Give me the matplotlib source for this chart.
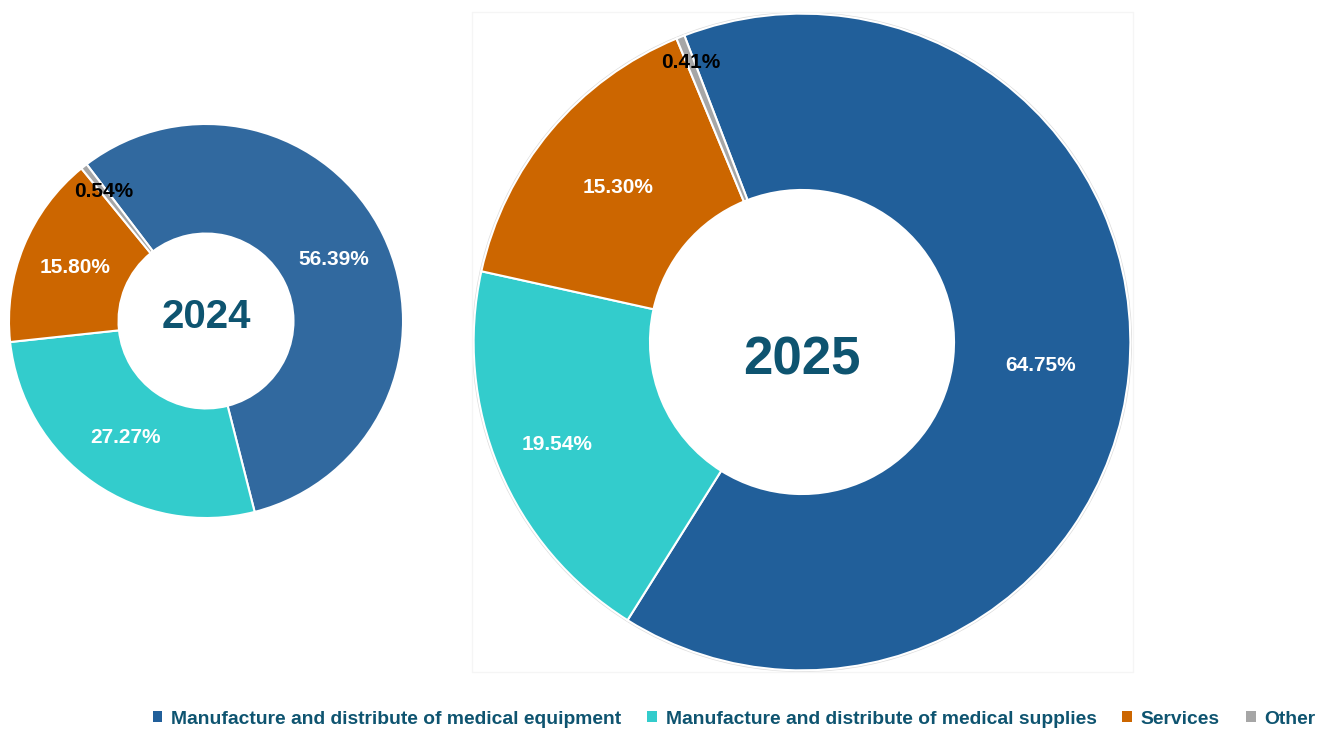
import matplotlib.pyplot as plt
import numpy as np
from matplotlib.patches import Rectangle, Circle

categories = ["Manufacture and distribute of medical equipment",
              "Manufacture and distribute of medical supplies",
              "Services", "Other"]
share_2024 = [56.39, 27.27, 15.80, 0.54]
share_2025 = [64.75, 19.54, 15.30, 0.41]

colors_2024 = ["#31699F", "#33CCCC", "#CC6600", "#A6A6A6"]
colors_2025 = ["#215F9A", "#33CCCC", "#CC6600", "#A6A6A6"]
label_colors = ["white", "white", "white", "black"]
title_color = "#0E5470"

plt.rcParams["font.family"] = ["Liberation Sans", "DejaVu Sans"]

fig = plt.figure(figsize=(13.18, 7.29), dpi=100)


def donut(ax, values, colors, start, width, dists, year, year_size, year_dy=0.0, outline=False):
    wedges, _ = ax.pie(values, colors=colors, startangle=start, counterclock=False,
                       radius=1.0, wedgeprops=dict(width=width, edgecolor="white", linewidth=1.5))
    for w, v, c, d in zip(wedges, values, label_colors, dists):
        mid = np.deg2rad((w.theta1 + w.theta2) / 2)
        ax.text(d * np.cos(mid), d * np.sin(mid), f"{v:.2f}%", ha="center", va="center",
                color=c, fontsize=15, fontweight="bold")
    ax.text(0, year_dy, year, ha="center", va="center", color=title_color,
            fontsize=year_size, fontweight="bold")
    if outline:
        ax.add_patch(Circle((0, 0), 1.003, fill=False, edgecolor="#DCDCDC", linewidth=1.0, zorder=0))
    ax.set_xlim(-1.005, 1.005)
    ax.set_ylim(-1.005, 1.005)
    ax.set_aspect("equal")
    ax.axis("off")
    return wedges


ax1 = fig.add_axes([8 / 1318, 210 / 729, 396 / 1318, 396 / 729])
donut(ax1, share_2024, colors_2024, 127.3, 0.556, [0.72, 0.72, 0.72, 0.84], "2024", 29, 0.02)

# faint frame around the 2025 chart area
fig.patches.append(Rectangle((472 / 1318, 57 / 729), 661 / 1318, 660 / 729,
                             transform=fig.transFigure, fill=False,
                             edgecolor="#F5F5F5", linewidth=1.0))

ax2 = fig.add_axes([472 / 1318, 57 / 729, 660 / 1318, 660 / 729])
wedges = donut(ax2, share_2025, colors_2025, 111.0, 0.537, [0.73, 0.81, 0.73, 0.915], "2025", 38,
               -0.055, outline=True)

leg = fig.legend(wedges, categories, loc="center", bbox_to_anchor=(734 / 1318, 10 / 729),
                 ncol=4, frameon=False, handlelength=0.5, handleheight=0.5,
                 handletextpad=0.45, columnspacing=1.35, borderpad=0.1,
                 prop=dict(size=13.9, weight="bold"))
for t in leg.get_texts():
    t.set_color(title_color)
for h in leg.legend_handles:
    h.set_edgecolor("none")

fig.savefig("out.png", dpi=100)
